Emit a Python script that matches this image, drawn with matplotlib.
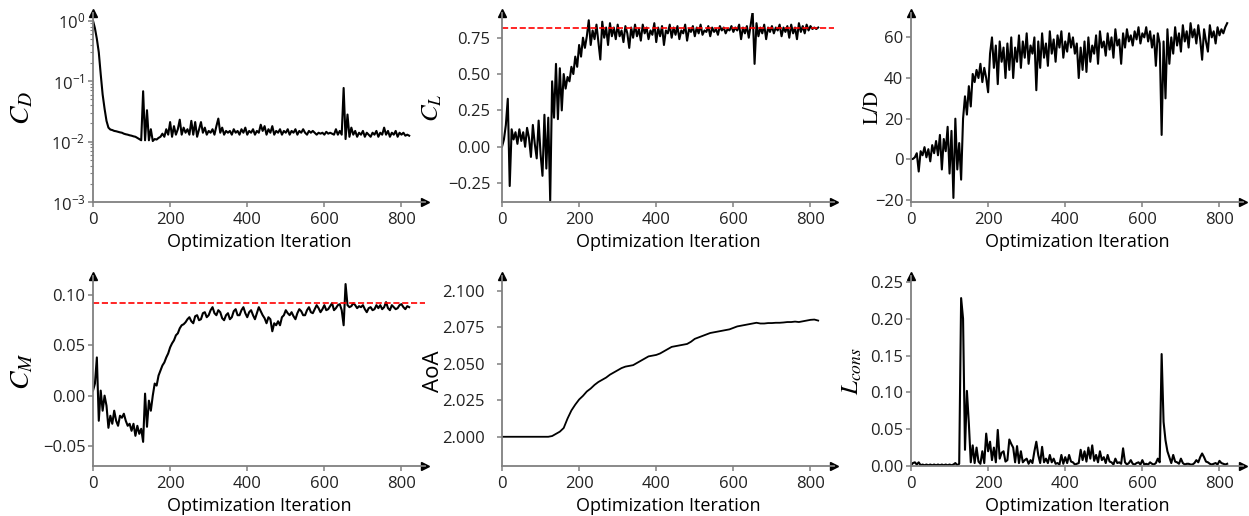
import numpy as np
import matplotlib
matplotlib.use("Agg")
import matplotlib.pyplot as plt

plt.rcParams['font.family'] = ['Open Sans', 'DejaVu Sans']

# optimisation history, sampled every 5 iterations (0 ... 820)
step = 5

cd = [1.0, 0.75, 0.5, 0.3, 0.13, 0.06, 0.035, 0.022, 0.017, 0.0158,
      0.0155, 0.015, 0.0148, 0.0145, 0.0142, 0.014, 0.0135, 0.0132, 0.013, 0.0127,
      0.0125, 0.0122, 0.012, 0.0115, 0.011, 0.0105, 0.068, 0.0105, 0.033, 0.0105,
      0.016, 0.0102, 0.011, 0.0108, 0.0115, 0.012, 0.0135, 0.012, 0.016, 0.013,
      0.021, 0.012, 0.018, 0.013, 0.016, 0.023, 0.013, 0.017, 0.014, 0.016,
      0.013, 0.022, 0.013, 0.021, 0.012, 0.016, 0.021, 0.014, 0.017, 0.013,
      0.015, 0.014, 0.016, 0.013, 0.018, 0.024, 0.014, 0.017, 0.013, 0.015,
      0.014, 0.015, 0.013, 0.016, 0.014, 0.015, 0.013, 0.016, 0.014, 0.017,
      0.013, 0.015, 0.014, 0.016, 0.013, 0.015, 0.014, 0.019, 0.015, 0.018,
      0.013, 0.016, 0.014, 0.018, 0.013, 0.015, 0.014, 0.016, 0.013, 0.015,
      0.014, 0.016, 0.013, 0.015, 0.014, 0.016, 0.013, 0.015, 0.014, 0.016,
      0.014, 0.013, 0.015, 0.014, 0.015, 0.014, 0.013, 0.014, 0.0135, 0.014,
      0.013, 0.0145, 0.0135, 0.014, 0.0135, 0.013, 0.016, 0.013, 0.015, 0.013,
      0.077, 0.011, 0.028, 0.012, 0.017, 0.013, 0.015, 0.012, 0.014, 0.013,
      0.015, 0.012, 0.014, 0.013, 0.012, 0.014, 0.013, 0.015, 0.012, 0.014,
      0.013, 0.017, 0.013, 0.015, 0.012, 0.014, 0.013, 0.015, 0.012, 0.014,
      0.013, 0.014, 0.0125, 0.013, 0.0125]

cl = [0.0, 0.05, 0.15, 0.33, -0.27, 0.12, 0.05, 0.1, 0.02, 0.12,
      0.04, 0.1, 0.0, 0.13, 0.06, -0.07, 0.15, 0.02, -0.08, 0.18,
      -0.05, -0.2, 0.22, -0.15, 0.2, -0.37, 0.45, 0.2, 0.57, 0.19,
      0.54, 0.25, 0.5, 0.4, 0.48, 0.45, 0.55, 0.5, 0.62, 0.55,
      0.7, 0.62, 0.75, 0.68, 0.76, 0.87, 0.7, 0.8, 0.74, 0.84,
      0.72, 0.6, 0.86, 0.75, 0.82, 0.7, 0.85, 0.76, 0.82, 0.74,
      0.84, 0.76, 0.8, 0.72, 0.83, 0.78, 0.68, 0.82, 0.75, 0.84,
      0.76, 0.81, 0.73, 0.84, 0.78, 0.82, 0.74, 0.8, 0.77, 0.85,
      0.72, 0.82, 0.76, 0.83, 0.7, 0.8, 0.78, 0.84, 0.75, 0.82,
      0.77, 0.83, 0.74, 0.8, 0.78, 0.84, 0.73, 0.81, 0.79, 0.83,
      0.76, 0.82, 0.78, 0.84, 0.77, 0.8, 0.79, 0.83, 0.76, 0.82,
      0.79, 0.81, 0.77, 0.83, 0.8, 0.82, 0.78, 0.81, 0.8, 0.83,
      0.79, 0.82, 0.8, 0.84, 0.74, 0.82, 0.78, 0.83, 0.75, 0.84,
      0.93, 0.57, 0.85, 0.76, 0.82, 0.78, 0.84, 0.74, 0.82, 0.79,
      0.83, 0.78, 0.82, 0.8, 0.84, 0.76, 0.82, 0.79, 0.83, 0.75,
      0.84, 0.78, 0.82, 0.74, 0.85, 0.79, 0.83, 0.78, 0.84, 0.8,
      0.83, 0.81, 0.82, 0.81, 0.82]

ld = [0.0, 0.2, 1.0, 3.0, -6.0, 4.0, 2.0, 6.0, 1.0, 5.0,
      -1.0, 7.0, 3.0, 9.0, 2.0, 12.0, -5.0, 10.0, 4.0, 16.0,
      -7.0, 14.0, -19.0, 20.0, -5.0, 8.0, -10.0, 20.0, 31.0, 22.0,
      36.0, 26.0, 42.0, 38.0, 44.0, 40.0, 47.0, 38.0, 45.0, 40.0,
      33.0, 52.0, 60.0, 45.0, 56.0, 37.0, 58.0, 48.0, 55.0, 40.0,
      57.0, 44.0, 60.0, 40.0, 55.0, 48.0, 61.0, 45.0, 58.0, 50.0,
      62.0, 47.0, 56.0, 52.0, 60.0, 34.0, 58.0, 45.0, 62.0, 50.0,
      57.0, 46.0, 63.0, 52.0, 59.0, 48.0, 61.0, 55.0, 63.0, 50.0,
      58.0, 53.0, 62.0, 55.0, 60.0, 52.0, 57.0, 40.0, 55.0, 44.0,
      58.0, 43.0, 60.0, 48.0, 56.0, 52.0, 61.0, 47.0, 63.0, 55.0,
      58.0, 51.0, 62.0, 54.0, 60.0, 50.0, 64.0, 56.0, 59.0, 47.0,
      62.0, 55.0, 64.0, 58.0, 61.0, 56.0, 63.0, 59.0, 65.0, 57.0,
      62.0, 60.0, 65.0, 58.0, 63.0, 55.0, 61.0, 46.0, 62.0, 57.0,
      12.0, 58.0, 30.0, 64.0, 47.0, 60.0, 52.0, 65.0, 56.0, 62.0,
      53.0, 66.0, 58.0, 63.0, 55.0, 67.0, 60.0, 64.0, 57.0, 66.0,
      59.0, 49.0, 64.0, 58.0, 53.0, 66.0, 60.0, 63.0, 57.0, 65.0,
      61.0, 64.0, 62.0, 65.0, 67.0]

cm = [0.005, 0.012, 0.038, -0.025, 0.005, -0.015, 0.0, -0.01, -0.032, -0.02,
      -0.028, -0.015, -0.025, -0.03, -0.02, -0.022, -0.018, -0.025, -0.03, -0.028,
      -0.035, -0.028, -0.04, -0.03, -0.038, -0.033, -0.046, 0.002, -0.031, -0.005,
      -0.015, 0.0, 0.012, 0.01, 0.02, 0.025, 0.03, 0.033, 0.038, 0.042,
      0.048, 0.052, 0.055, 0.06, 0.062, 0.067, 0.07, 0.071, 0.073, 0.076,
      0.078, 0.074, 0.072, 0.079, 0.08, 0.075, 0.076, 0.082, 0.083, 0.078,
      0.08, 0.085, 0.088, 0.082, 0.08, 0.085, 0.083, 0.077, 0.075, 0.08,
      0.082, 0.076, 0.078, 0.084, 0.086, 0.08, 0.08, 0.085, 0.088, 0.082,
      0.078, 0.083, 0.085, 0.08, 0.076, 0.082, 0.088, 0.084, 0.08, 0.077,
      0.072, 0.078, 0.076, 0.064, 0.072, 0.07, 0.074, 0.07, 0.078, 0.08,
      0.085, 0.082, 0.08, 0.083, 0.079, 0.076, 0.082, 0.086, 0.084, 0.08,
      0.08, 0.085, 0.088, 0.083, 0.082, 0.086, 0.09, 0.087, 0.083, 0.086,
      0.09, 0.085, 0.086, 0.089, 0.092, 0.085, 0.087, 0.09, 0.091, 0.085,
      0.07, 0.111, 0.09, 0.088, 0.089, 0.092, 0.09, 0.087, 0.089, 0.088,
      0.09, 0.086, 0.083, 0.087, 0.088, 0.085, 0.086, 0.09, 0.087, 0.09,
      0.086, 0.088, 0.093, 0.087, 0.085, 0.09, 0.088, 0.086, 0.087, 0.09,
      0.091, 0.088, 0.086, 0.089, 0.088]

# angle of attack is smooth, every 10 iterations is enough
aoa_step = 10
aoa = [2.0, 2.0, 2.0, 2.0, 2.0, 2.0, 2.0, 2.0, 2.0, 2.0,
       2.0, 2.0, 2.0, 2.0005, 2.002, 2.0035, 2.006, 2.0125, 2.018, 2.022,
       2.0255, 2.028, 2.031, 2.033, 2.0355, 2.0375, 2.039, 2.0405, 2.0425, 2.044,
       2.0455, 2.047, 2.048, 2.0485, 2.049, 2.0505, 2.052, 2.0535, 2.055, 2.0555,
       2.056, 2.057, 2.0585, 2.06, 2.0615, 2.062, 2.0625, 2.063, 2.0635, 2.065,
       2.067, 2.068, 2.069, 2.070, 2.071, 2.0715, 2.072, 2.0725, 2.073, 2.0735,
       2.0745, 2.0755, 2.076, 2.0765, 2.077, 2.0775, 2.078, 2.0775, 2.0775, 2.0778,
       2.0778, 2.078, 2.078, 2.0782, 2.0785, 2.0785, 2.0788, 2.0785, 2.079, 2.0795,
       2.080, 2.0802, 2.0795]

lcons = [0.001, 0.004, 0.005, 0.002, 0.005, 0.001, 0.002, 0.001, 0.002, 0.001,
         0.002, 0.001, 0.002, 0.001, 0.002, 0.001, 0.002, 0.001, 0.002, 0.001,
         0.002, 0.001, 0.002, 0.004, 0.001, 0.003, 0.228, 0.2, 0.022, 0.102,
         0.058, 0.005, 0.028, 0.004, 0.025, 0.006, 0.003, 0.02, 0.004, 0.044,
         0.02, 0.033, 0.008, 0.025, 0.005, 0.049, 0.01, 0.018, 0.02, 0.006,
         0.008, 0.036, 0.03, 0.025, 0.005, 0.027, 0.004, 0.02, 0.005, 0.008,
         0.01, 0.003, 0.008, 0.004, 0.02, 0.033, 0.015, 0.004, 0.026, 0.005,
         0.01, 0.004, 0.015, 0.005, 0.01, 0.003, 0.004, 0.002, 0.015, 0.003,
         0.012, 0.004, 0.015, 0.006, 0.005, 0.002, 0.003, 0.004, 0.022, 0.008,
         0.02, 0.006, 0.025, 0.01, 0.028, 0.007, 0.015, 0.005, 0.02, 0.008,
         0.012, 0.004, 0.015, 0.006, 0.005, 0.002, 0.01, 0.004, 0.005, 0.003,
         0.024, 0.005, 0.002, 0.004, 0.008, 0.003, 0.002, 0.004, 0.005, 0.002,
         0.008, 0.002, 0.003, 0.002, 0.005, 0.003, 0.002, 0.004, 0.01, 0.005,
         0.152, 0.06, 0.035, 0.02, 0.012, 0.004, 0.015, 0.006, 0.005, 0.003,
         0.01, 0.004, 0.002, 0.003, 0.003, 0.002, 0.002, 0.004, 0.008, 0.005,
         0.012, 0.017, 0.012, 0.006, 0.005, 0.003, 0.002, 0.003, 0.004, 0.002,
         0.007, 0.004, 0.003, 0.002, 0.003]

cl_target = 0.82
cm_target = 0.0917

for s in (cd, cl, ld, cm, lcons):
    assert len(s) == 165, len(s)
assert len(aoa) == 83

it = np.arange(len(cd)) * step
it_aoa = np.arange(len(aoa)) * aoa_step

fig = plt.figure(figsize=(12.49, 5.16), dpi=100)
W, H = 1249.0, 516.0


def make_ax(left_px, bottom_px, height_px, ypad=2.0):
    ax = fig.add_axes([left_px / W, 1 - bottom_px / H, 332 / W, height_px / H])
    ax.spines['top'].set_visible(False)
    ax.spines['right'].set_visible(False)
    for sp in ('left', 'bottom'):
        ax.spines[sp].set_color('#808080')
        ax.spines[sp].set_linewidth(1.3)
    ax.tick_params(colors='#808080', labelcolor='#222222', labelsize=12, width=1.1)
    ax.tick_params(axis='y', pad=ypad)
    ax.tick_params(which='minor', colors='#808080', width=0.8)
    ax.plot(1, 0, '>k', ms=6, transform=ax.transAxes, clip_on=False)
    ax.plot(0, 1, '^k', ms=6, transform=ax.transAxes, clip_on=False)
    ax.set_xlim(0, 861)
    ax.set_xticks([0, 200, 400, 600, 800])
    ax.set_xlabel('Optimization Iteration', fontsize=13, labelpad=3.5)
    return ax


def ylab(ax, text, xpos, size=18, math=True):
    if math:
        ax.set_ylabel(text, fontsize=size, math_fontfamily='stix')
    else:
        ax.set_ylabel(text, fontsize=size)
    ax.yaxis.set_label_coords(xpos, 0.5)


lefts = [93, 502, 911]

# top row
ax = make_ax(lefts[0], 202, 189)
ax.plot(it, cd, color='black', lw=1.5)
ax.set_yscale('log')
ax.set_ylim(1e-3, 1.34)
ylab(ax, r'$C_D$', -0.17, 20)

ax = make_ax(lefts[1], 202, 189, ypad=5)
ax.plot(it, cl, color='black', lw=1.5)
ax.axhline(cl_target, color='red', ls='--', lw=1.2)
ax.set_ylim(-0.38, 0.92)
ax.set_yticks([-0.25, 0.0, 0.25, 0.5, 0.75])
ylab(ax, r'$C_L$', -0.172)

ax = make_ax(lefts[2], 202, 189)
ax.plot(it, ld, color='black', lw=1.5)
ax.set_ylim(-21, 72)
ax.set_yticks([-20, 0, 20, 40, 60])
ylab(ax, r'$\mathrm{L/D}$', -0.085, 15)

# bottom row
ax = make_ax(lefts[0], 466, 190)
ax.plot(it, cm, color='black', lw=1.5)
ax.axhline(cm_target, color='red', ls='--', lw=1.2)
ax.set_ylim(-0.07, 0.119)
ax.set_yticks([-0.05, 0.0, 0.05, 0.10])
ylab(ax, r'$C_M$', -0.17, 20)

ax = make_ax(lefts[1], 466, 190, ypad=9)
ax.plot(it_aoa, aoa, color='black', lw=1.3)
ax.set_ylim(1.98, 2.11)
ax.set_yticks([2.0, 2.025, 2.05, 2.075, 2.1])
ax.set_yticklabels(['2.000', '2.025', '2.050', '2.075', '2.100'])
ylab(ax, 'AoA', -0.175, 16, math=False)

ax = make_ax(lefts[2], 466, 190)
ax.plot(it, lcons, color='black', lw=1.5)
ax.set_ylim(0, 0.258)
ax.set_yticks([0.0, 0.05, 0.1, 0.15, 0.2, 0.25])
ax.set_yticklabels(['0.00', '0.05', '0.10', '0.15', '0.20', '0.25'])
ylab(ax, r'$L_{cons}$', -0.139)

fig.savefig('out.png', dpi=100)
